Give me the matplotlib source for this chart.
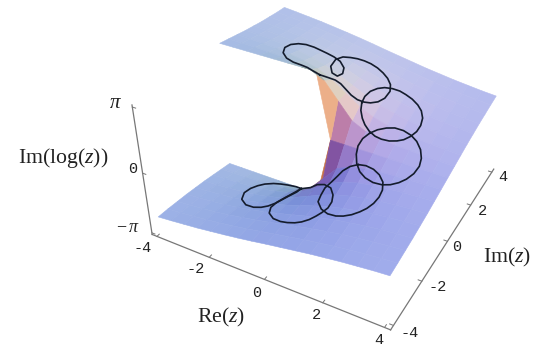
import numpy as np
import matplotlib
matplotlib.use('Agg')
import matplotlib.pyplot as plt

plt.rcParams['mathtext.fontset'] = 'custom'
plt.rcParams['mathtext.rm'] = 'Liberation Serif'
plt.rcParams['mathtext.it'] = 'Liberation Serif:italic'

W, H = 546, 349

# camera and box, fitted to the reference
ELEV, AZIM, FOCAL = 36.4733, -61.5911, 0.4285
ZA, YA = 0.6049, 0.9957
CX, CY, S = 325.16, 203.50, 395.59
B, ZB = 4.19, 3.234

# surface: the two sheets either side of the cut
re_grid = [-4, -3.5, -3, -2.5, -2, -1.5, -1, -0.5, 0, 0.5, 1, 1.5, 2, 2.5, 3, 3.5, 4]
im_upper = [0, 0.5, 1, 1.5, 2, 2.5, 3, 3.5, 4]
im_lower = [0, -0.5, -1, -1.5, -2, -2.5, -3, -3.5, -4]
phase_upper = [
    [3.14, 3.14, 3.14, 3.14, 3.14, 3.14, 3.14, 3.14, 0.0, 0.0, 0.0, 0.0, 0.0, 0.0, 0.0, 0.0, 0.0],
    [3.02, 3.0, 2.98, 2.94, 2.9, 2.82, 2.68, 2.36, 1.57, 0.79, 0.46, 0.32, 0.24, 0.2, 0.17, 0.14, 0.12],
    [2.9, 2.86, 2.82, 2.76, 2.68, 2.55, 2.36, 2.03, 1.57, 1.11, 0.79, 0.59, 0.46, 0.38, 0.32, 0.28, 0.24],
    [2.78, 2.74, 2.68, 2.6, 2.5, 2.36, 2.16, 1.89, 1.57, 1.25, 0.98, 0.79, 0.64, 0.54, 0.46, 0.4, 0.36],
    [2.68, 2.62, 2.55, 2.47, 2.36, 2.21, 2.03, 1.82, 1.57, 1.33, 1.11, 0.93, 0.79, 0.67, 0.59, 0.52, 0.46],
    [2.58, 2.52, 2.45, 2.36, 2.25, 2.11, 1.95, 1.77, 1.57, 1.37, 1.19, 1.03, 0.9, 0.79, 0.69, 0.62, 0.56],
    [2.5, 2.43, 2.36, 2.27, 2.16, 2.03, 1.89, 1.74, 1.57, 1.41, 1.25, 1.11, 0.98, 0.88, 0.79, 0.71, 0.64],
    [2.42, 2.36, 2.28, 2.19, 2.09, 1.98, 1.85, 1.71, 1.57, 1.43, 1.29, 1.17, 1.05, 0.95, 0.86, 0.79, 0.72],
    [2.36, 2.29, 2.21, 2.13, 2.03, 1.93, 1.82, 1.7, 1.57, 1.45, 1.33, 1.21, 1.11, 1.01, 0.93, 0.85, 0.79],
]
phase_lower = [[-v for v in row] for row in phase_upper]

# loops on the surface: (Re, Im, phase)
loop_top = [(-0.74, 0.67, 2.4), (-0.91, 0.56, 2.59), (-1.12, 0.56, 2.68), (-1.31, 0.49, 2.78), (-1.54, 0.41, 2.88),
            (-1.86, 0.54, 2.86), (-2.19, 0.88, 2.76), (-2.39, 1.32, 2.64), (-2.4, 1.71, 2.52), (-2.27, 1.99, 2.42),
            (-2.07, 2.15, 2.34), (-1.81, 2.23, 2.25), (-1.57, 2.24, 2.18), (-1.34, 2.25, 2.11), (-1.09, 2.26, 2.02),
            (-0.83, 2.21, 1.93), (-0.58, 2, 1.85), (-0.46, 1.68, 1.84), (-0.5, 1.39, 1.91), (-0.67, 1.35, 2.03),
            (-0.88, 1.65, 2.06), (-0.98, 2.18, 1.99), (-0.89, 2.52, 1.91), (-0.7, 2.71, 1.82), (-0.5, 2.83, 1.75),
            (-0.29, 2.91, 1.67), (-0.06, 2.94, 1.59), (0.2, 2.91, 1.5), (0.45, 2.82, 1.41), (0.68, 2.69, 1.32),
            (0.88, 2.49, 1.23), (1, 2.21, 1.15), (0.99, 1.84, 1.08), (0.88, 1.57, 1.06), (0.71, 1.37, 1.09),
            (0.54, 1.24, 1.16), (0.35, 1.15, 1.27), (0.15, 1.11, 1.44), (-0.06, 1.14, 1.62), (-0.26, 1.17, 1.79),
            (-0.43, 1.12, 1.94), (-0.58, 0.95, 2.12), (-0.74, 0.67, 2.4)]
loop_upper = [(0.5, 1.17, 1.17), (0.47, 1.44, 1.26), (0.51, 1.76, 1.29), (0.63, 2.04, 1.27), (0.79, 2.24, 1.23),
              (1.01, 2.37, 1.17), (1.25, 2.43, 1.1), (1.47, 2.42, 1.02), (1.73, 2.36, 0.94), (1.98, 2.24, 0.85),
              (2.18, 2.08, 0.76), (2.34, 1.83, 0.66), (2.41, 1.53, 0.56), (2.4, 1.25, 0.48), (2.31, 0.99, 0.41),
              (2.17, 0.79, 0.35), (2, 0.66, 0.32), (1.78, 0.56, 0.3), (1.53, 0.51, 0.32), (1.31, 0.51, 0.37),
              (1.08, 0.56, 0.48), (0.88, 0.65, 0.64), (0.73, 0.76, 0.81), (0.59, 0.93, 1.01), (0.5, 1.17, 1.17)]
loop_mid = [(1.12, 0.52, 0.43), (1.29, 0.72, 0.51), (1.51, 0.91, 0.54), (1.74, 1.04, 0.54), (2.02, 1.09, 0.49),
            (2.31, 1.04, 0.42), (2.56, 0.91, 0.34), (2.8, 0.67, 0.24), (2.96, 0.38, 0.13), (3.03, 0.08, 0.03),
            (2.99, -0.23, -0.08), (2.87, -0.5, -0.17), (2.71, -0.69, -0.25), (2.5, -0.84, -0.32), (2.26, -0.91, -0.38),
            (1.95, -0.9, -0.43), (1.63, -0.79, -0.45), (1.36, -0.62, -0.43), (1.13, -0.38, -0.33), (0.99, -0.14, -0.14),
            (0.94, 0.07, 0.08), (0.99, 0.29, 0.29), (1.12, 0.52, 0.43)]
loop_lower = [(1.2, -0.41, -0.33), (1.46, -0.4, -0.27), (1.75, -0.46, -0.26), (2.01, -0.59, -0.29), (2.24, -0.81, -0.35),
              (2.36, -1.09, -0.43), (2.38, -1.36, -0.52), (2.33, -1.62, -0.61), (2.22, -1.85, -0.7), (2.08, -2.03, -0.77),
              (1.89, -2.19, -0.86), (1.67, -2.3, -0.94), (1.44, -2.34, -1.02), (1.14, -2.3, -1.11), (0.83, -2.13, -1.2),
              (0.54, -1.81, -1.28), (0.47, -1.5, -1.27), (0.44, -1.18, -1.21), (0.55, -0.96, -1.05), (0.66, -0.77, -0.87),
              (0.77, -0.62, -0.67), (0.96, -0.49, -0.47), (1.2, -0.41, -0.33)]
loop_cut_b = [(-1.1, -0.01, -3.13), (-0.36, -0.7, -2.05), (-0.03, -0.83, -1.6), (0.33, -1.01, -1.25), (0.66, -1.21, -1.07),
              (0.9, -1.51, -1.03), (1.01, -1.79, -1.06), (1.02, -2.06, -1.11), (0.93, -2.28, -1.18), (0.82, -2.46, -1.25),
              (0.69, -2.63, -1.32), (0.51, -2.78, -1.39), (0.32, -2.86, -1.46), (0.08, -2.9, -1.54), (-0.17, -2.89, -1.63),
              (-0.49, -2.79, -1.75), (-0.79, -2.54, -1.87), (-0.94, -2.2, -1.98), (-0.93, -1.85, -2.04), (-0.85, -1.57, -2.06),
              (-0.79, -1.31, -2.11), (-0.76, -0.93, -2.25), (-1.1, -0.01, -3.13)]
loop_cut_a = [(-1.11, -0.02, -3.12), (-1.32, -0.01, -3.13), (-1.56, -0.12, -3.06), (-1.78, -0.23, -3.01), (-1.98, -0.37, -2.95),
              (-2.18, -0.6, -2.87), (-2.3, -0.85, -2.79), (-2.38, -1.16, -2.69), (-2.38, -1.54, -2.57), (-2.18, -1.99, -2.4),
              (-1.84, -2.27, -2.25), (-1.51, -2.33, -2.15), (-1.26, -2.27, -2.08), (-1.08, -2.14, -2.04), (-0.93, -1.9, -2.03),
              (-0.84, -1.64, -2.04), (-0.77, -1.37, -2.08), (-0.69, -1.02, -2.16), (-1.11, -0.02, -3.12)]

xy_ticks = [-4, -2, 0, 2, 4]
z_ticks = [-np.pi, 0, np.pi]

fig = plt.figure(figsize=(W/100, H/100), dpi=100)
ax = fig.add_axes([(CX-S/2)/W, (CY-S/2)/H, S/W, S/H], projection='3d')
ax.set_xlim(-4.2, 4.2)
ax.set_ylim(-4.2, 4.2)
ax.set_zlim(-3.3, 3.3)
ax.view_init(ELEV, AZIM)
ax.set_proj_type('persp', focal_length=FOCAL)
ax.set_box_aspect((1, YA, ZA))
ax.set_axis_off()
ax.patch.set_alpha(0)
ax.computed_zorder = False


def shade(X, Y, Z):
    # flat shading with three coloured lights fixed to the camera
    P = np.dstack([X/8.4, Y/8.4*YA, Z/6.6*ZA])
    n = np.cross(P[1:, 1:]-P[:-1, :-1], P[1:, :-1]-P[:-1, 1:])
    n /= np.linalg.norm(n, axis=2, keepdims=True)
    e, a = np.radians(ELEV), np.radians(AZIM)
    w = np.array([np.cos(e)*np.cos(a), np.cos(e)*np.sin(a), np.sin(e)])
    u = np.array([-np.sin(a), np.cos(a), 0])
    v = np.cross(w, u)
    n = n*np.sign(n@w)[..., None]
    view = np.dstack([n@u, n@v, n@w])
    lights = np.array([[1, 0, 1], [1, 1, 1], [0, 1, 1]], float)
    lights /= np.linalg.norm(lights, axis=1, keepdims=True)
    col = np.clip(view@lights.T, 0, None)
    rgb = np.array([.47, .29, .28])+col*np.array([.46, .53, .65])
    return np.clip(np.dstack([rgb, np.ones(rgb.shape[:2])]), 0, 1)


for im_vals, phase, zo in ((im_upper, phase_upper, 1), (im_lower, phase_lower, 2)):
    X, Y = np.meshgrid(re_grid, im_vals)
    Z = np.array(phase)
    srf = ax.plot_surface(X, Y, Z, facecolors=shade(X, Y, Z), shade=False,
                          rstride=1, cstride=1, linewidth=.4, zorder=zo)
    srf.set_edgecolor(srf._facecolor3d)

# box edges and ticks
ac = '#777777'
ax.plot([-B, B], [-B, -B], [-ZB, -ZB], color=ac, lw=.9, zorder=3)
ax.plot([B, B], [-B, B], [-ZB, -ZB], color=ac, lw=.9, zorder=3)
ax.plot([-B, -B], [-B, -B], [-ZB, ZB], color=ac, lw=.9, zorder=3)
for t in xy_ticks:
    ax.plot([t, t], [-B, -B+.12], [-ZB, -ZB], color=ac, lw=.7, zorder=3)
    ax.plot([B, B-.12], [t, t], [-ZB, -ZB], color=ac, lw=.7, zorder=3)
for t in z_ticks:
    ax.plot([-B, -B+.12], [-B, -B], [t, t], color=ac, lw=.7, zorder=3)

# the loops go over everything
for loop in (loop_top, loop_upper, loop_mid, loop_lower, loop_cut_b, loop_cut_a):
    re_vals, im_vals, phase_vals = zip(*loop)
    ax.plot(re_vals, im_vals, phase_vals, color='#141c2c', lw=1.2, zorder=5)


def put(x, y, s, **kw):
    fig.text(x/W, 1-y/H, s, ha='center', va='center', color='#222222', **kw)


for s, x, y in (('-4', 143, 248), ('-2', 196, 269), ('0', 257, 293), ('2', 316, 315), ('4', 379, 340),
                ('-4', 410, 333), ('-2', 438, 287), ('0', 457, 247), ('2', 482, 211), ('4', 503, 177),
                ('0', 133, 169)):
    put(x, y, s, family='Liberation Mono', fontsize=11)
put(115, 102, r'$\pi$', fontsize=15)
put(128, 227, r'$-\,\pi$', fontsize=13)
put(63, 158, r'Im(log($z$))', family='Liberation Serif', fontsize=15.7)
put(221, 317, r'Re($z$)', family='Liberation Serif', fontsize=15.7)
put(507, 257, r'Im($z$)', family='Liberation Serif', fontsize=15.7)

fig.savefig('out.png', dpi=100)
